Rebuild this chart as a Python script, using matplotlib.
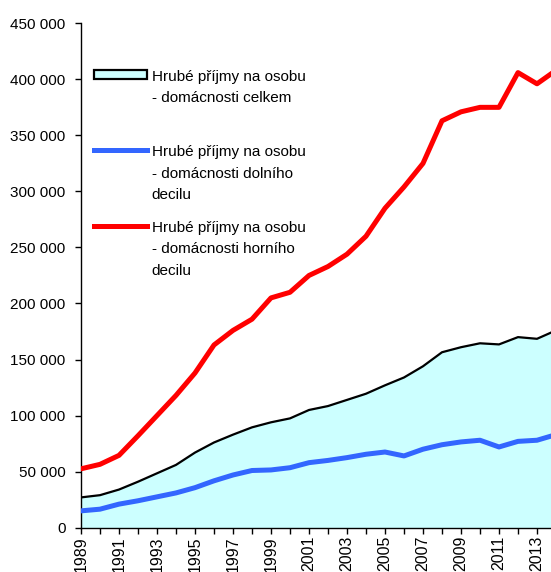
import matplotlib
matplotlib.use("Agg")
import matplotlib.pyplot as plt
from matplotlib.patches import Patch
from matplotlib.lines import Line2D
from matplotlib.ticker import FuncFormatter, MultipleLocator

plt.rcParams['font.family'] = ['Liberation Sans', 'DejaVu Sans']

years = list(range(1989, 2015))

# hrube prijmy na osobu - domacnosti celkem
total = [27000, 29000, 34000, 41000, 48500, 56000, 67000, 76000, 83000, 89500,
         94000, 97500, 105000, 108500, 114000, 119500, 127000, 134000, 144000, 156500,
         161000, 164500, 163500, 170000, 168500, 176000]
# dolni decil
lower = [15000, 16500, 21000, 24000, 27500, 31000, 35700, 41800, 47000, 51000,
         51500, 53500, 58000, 60000, 62500, 65500, 67500, 64000, 70000, 74000,
         76500, 78000, 72000, 77000, 78000, 83000]
# horni decil
upper = [52500, 56500, 64500, 82000, 100000, 118000, 138000, 163000, 176000, 186000,
         205000, 210000, 225000, 233000, 244000, 260000, 285000, 304000, 325000, 363000,
         371000, 375000, 375000, 406000, 396000, 408000]

# trailing newline on the first label keeps all three legend slots the same height
labels = ["Hrubé příjmy na osobu\n- domácnosti celkem\n",
          "Hrubé příjmy na osobu\n- domácnosti dolního\ndecilu",
          "Hrubé příjmy na osobu\n- domácnosti horního\ndecilu"]

fill_col = '#CCFFFF'
blue = '#3366FF'
red = '#FF0000'

fig = plt.figure(figsize=(5.51, 5.72), dpi=100)
# the axes run a little past the right edge, the original is cropped there
ax = fig.add_axes([0.147, 0.0775, 0.873, 0.8818])

ax.fill_between(years, total, 0, color=fill_col, zorder=1)
ax.plot(years, total, color='black', lw=1.6, zorder=2)
ax.plot(years, lower, color=blue, lw=3.6, zorder=3)
ax.plot(years, upper, color=red, lw=3.6, zorder=3)

ax.set_ylim(0, 450000)
ax.set_xlim(1989, 1989 + (0.873 * 551) / 19.0)

ax.yaxis.set_major_locator(MultipleLocator(50000))
ax.yaxis.set_major_formatter(FuncFormatter(lambda v, p: '{:,.0f}'.format(v).replace(',', ' ')))
ax.set_xticks(years)
ax.set_xticklabels([str(y) if (y - 1989) % 2 == 0 else '' for y in years], rotation=90)

for s in ['top', 'right']:
    ax.spines[s].set_visible(False)
ax.spines['left'].set_linewidth(1.0)
ax.spines['bottom'].set_linewidth(1.0)
ax.tick_params(axis='y', direction='out', length=4, width=1.0, pad=7, labelsize=11)
ax.tick_params(axis='x', direction='out', length=4, width=1.0, pad=2, labelsize=11.5)

handles = [Patch(facecolor=fill_col, edgecolor='black', linewidth=1.6),
           Line2D([], [], color=blue, lw=3.6),
           Line2D([], [], color=red, lw=3.6)]
leg = ax.legend(handles, labels, loc='upper left', bbox_to_anchor=(0.015, 0.92),
                frameon=False, fontsize=11, handlelength=3.45, handleheight=0.6,
                handletextpad=0.3, labelspacing=1.23, borderaxespad=0)
for t in leg.get_texts():
    t.set_linespacing(1.67)
# align handles with the first line of each label
for col in leg._legend_handle_box.get_children():
    for row in col.get_children():
        row.align = 'top'

fig.savefig('out.png', dpi=100)
